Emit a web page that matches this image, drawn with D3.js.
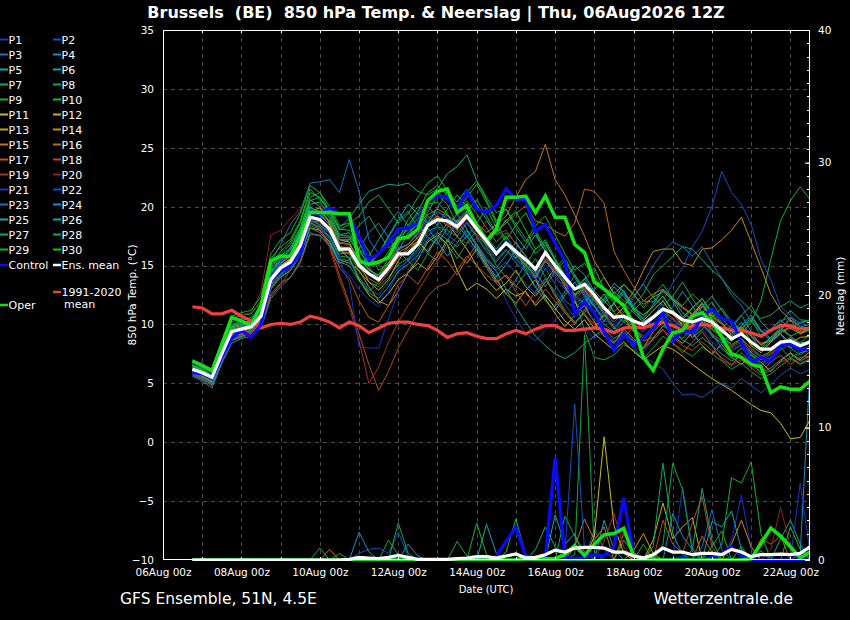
<!DOCTYPE html>
<html><head><meta charset="utf-8">
<script src="https://cdn.jsdelivr.net/npm/d3@7"></script>
<style>html,body{margin:0;padding:0;background:#000;}svg{display:block;font-family:"DejaVu Sans",sans-serif;}</style>
</head><body><svg id="c" width="850" height="620"></svg>
<script>
// ---------- DATA ----------
const titleText = "Brussels  (BE)  850 hPa Temp. & Neerslag | Thu, 06Aug2026 12Z";
const runTimeUTC = Date.UTC(2026, 7, 6, 12);
const leadHours = d3.range(6, 385, 6); // 64 steps, 6-hourly
const tempTicks = [-10, -5, 0, 5, 10, 15, 20, 25, 30, 35];
const precipTicks = [0, 10, 20, 30, 40];
const xLabelDays = ["2026-08-06", "2026-08-08", "2026-08-10", "2026-08-12", "2026-08-14", "2026-08-16", "2026-08-18", "2026-08-20", "2026-08-22"];

const ensMean = [6.2,5.9,5.5,7.5,9.4,9.6,9.8,10.7,13.8,14.8,15.3,16.7,19.1,18.9,18.1,16.4,16.4,15.0,14.3,13.8,14.8,16.0,16.0,16.8,18.4,18.9,18.8,18.3,19.2,18.1,17.1,16.0,16.9,16.2,15.5,14.7,16.1,15.0,14.0,13.0,13.4,12.5,11.4,10.6,10.7,10.3,10.0,10.6,11.3,11.0,10.4,10.2,10.5,10.2,9.5,8.8,9.2,8.5,7.9,7.9,8.5,8.6,8.2,8.5];
const control = [5.9,5.8,5.4,7.2,8.8,9.5,8.9,10.0,13.7,14.5,15.0,16.0,19.4,19.4,19.9,19.4,19.2,17.5,15.5,16.0,16.9,18.1,18.2,18.6,20.5,20.9,20.8,19.6,21.3,19.8,19.5,20.1,21.5,20.6,20.6,17.9,18.5,16.9,15.4,10.9,11.9,11.0,9.4,7.8,9.2,8.3,8.8,9.6,11.0,8.6,9.5,9.3,10.7,11.3,10.5,10.3,8.5,6.8,7.2,6.9,8.3,8.3,7.9,7.9];
const oper = [6.9,6.5,6.1,8.3,10.6,10.3,9.9,11.6,15.4,15.8,15.8,17.5,19.5,19.5,19.5,19.4,19.4,15.4,15.1,15.3,15.7,17.3,17.4,18.1,20.5,21.3,21.5,19.5,20.1,18.4,17.1,18.1,20.8,20.8,20.9,19.5,20.9,19.1,19.1,16.8,16.1,13.6,13.0,12.3,11.6,10.0,7.2,6.1,7.9,9.3,9.5,10.7,11.0,10.2,8.9,7.5,7.2,6.6,6.4,4.2,4.7,4.5,4.5,5.2];
const climate = [11.5,11.4,10.9,10.9,11.2,10.7,10.3,9.7,10.0,10.1,10.0,10.2,10.7,10.5,10.2,9.7,10.2,9.9,9.3,9.7,10.1,10.2,10.2,10.0,9.9,9.5,8.9,9.2,9.3,9.0,8.8,8.8,9.2,9.5,9.2,9.6,9.9,9.9,9.5,9.5,9.6,9.7,9.6,9.3,9.7,9.8,9.7,10.0,10.2,9.9,9.5,9.9,10.0,9.9,9.7,9.5,9.5,9.3,9.0,9.5,9.9,9.9,9.6,9.7];

const meanPrecip = [0,0,0,0,0,0,0,0,0,0,0,0,0,0,0,0,0.05,0.2,0.15,0.1,0.2,0.35,0.2,0.05,0.05,0.05,0.05,0.1,0.15,0.25,0.25,0.15,0.3,0.45,0.15,0.2,0.4,0.75,0.6,0.9,0.95,0.95,0.9,0.6,0.6,0.3,0.15,0.4,0.9,0.6,0.6,0.4,0.5,0.5,0.4,0.8,0.6,0.25,0.4,0.4,0.45,0.4,0.5,1.0];
const controlPrecip = [0,0,0,0,0,0,0,0,0,0,0,0,0,0,0,0,0,0,0,0,0,0,0,0,0,0,0,0,0,0,0,0.3,1.4,2.5,0.3,0.2,0.2,7.7,0.2,0.1,0.2,0.4,0.3,1.0,4.7,0.3,0.2,0.1,0,0,0.2,0,0,0.2,0.5,1.0,0.3,0,0,0,0,0,0,0];
const operPrecip = [0,0,0,0,0,0,0,0,0,0,0,0,0,0,0,0,0,0,0,0,0,0,0,0,0,0,0,0,0,0,0,0,0,0,0.2,0.1,0.1,0.1,0.4,1.1,0.35,1.2,1.9,2.0,2.4,0.3,0.15,0.1,0,0,0,0,0,0,0,0,0,0.1,1.25,2.4,1.8,1.0,0.15,0.6];

const p01 = [6.0,5.6,5.2,7.2,9.0,9.4,9.6,10.2, 13.0,14.2,15.0,16.5,18.5,18.8,17.2,15.0, 14.2,13.0,12.1,11.5,12.8,14.6,15.4,16.2,17.5,18.6,19.3,18.0,17.2,16.0,15.1,14.2, 12.0,10.5,9.2,8.6,9.5,10.4,11.0,10.2,9.6,8.8,9.5,8.6,9.1,8.2,7.6,8.8, 9.8,10.5,9.4,8.8,9.6,8.5,7.9,7.2,8.0,7.1,6.5,6.9,7.8,8.3,7.6,8.0];
const p02 = [6.4,6.0,5.6,7.8,9.8,9.9,10.1,11.0, 14.2,15.1,15.9,17.4,19.8,19.2,18.5,17.0, 16.8,15.4,14.6,14.0,15.2,16.5,16.8,17.6,18.8,19.5,19.2,18.6,19.5,18.4,17.0,16.2, 17.1,16.4,15.2,14.0,15.5,14.2,13.0,11.8,12.4,11.5,10.4,9.8,10.6,9.9,9.4,10.5, 12.0,13.5,14.8,16.6,17.9,20.0,23.0,21.2,20.2,18.5,15.5,13.8,11.5,10.8,10.0,10.4];
const p03 = [6.5,6.2,5.8,8.2,10.2,10.5,10.4,11.8, 15.2,16.8,18.5,19.6,22.0,22.1,22.3,21.2, 24.0,21.3,17.2,16.0,16.8,17.5,18.2,19.4,20.1,19.0,17.6,18.8,19.8,18.2,16.8,15.5, 16.4,15.2,14.5,13.1,14.8,13.4,12.0,11.4,12.2,11.0,10.0,9.4,10.2,9.6,9.0,9.8, 10.8,10.1,9.5,9.0,9.9,9.2,8.6,7.8,8.3,7.6,7.0,7.4,8.1,8.8,8.2,8.6];
const p04 = [5.8,5.5,5.0,7.0,8.8,9.1,9.5,10.3, 13.4,14.5,15.0,16.2,18.8,18.0,17.5,16.0, 16.1,15.0,15.8,17.2,18.5,19.6,18.4,17.2,16.0,15.4,17.0,18.9,17.6,16.2,14.8,13.5, 12.6,13.8,15.2,14.0,12.4,11.5,12.8,14.2,13.0,11.6,10.2,11.8,12.9,11.4,10.8,11.5, 12.4,11.0,9.8,10.6,11.8,10.5,9.2,9.9,10.8,9.4,8.2,8.9,9.8,9.0,8.4,9.2];
const p05 = [6.1,5.7,5.3,7.4,9.2,9.6,9.9,10.8, 14.0,15.2,15.8,17.5,20.0,19.5,18.4,16.8, 17.2,16.4,14.9,13.8,14.6,16.2,17.8,18.6,17.4,16.8,18.2,19.4,18.1,16.6,15.2,14.0, 15.1,16.3,14.6,13.2,12.0,11.2,12.5,13.6,12.4,11.0,12.2,13.5,12.8,11.2,10.5,11.7, 12.9,12.0,10.6,11.4,12.2,11.0,10.2,9.1,9.9,10.8,9.5,8.8,9.5,10.4,9.8,9.6];
const p06 = [6.8,6.3,5.9,8.0,10.0,10.3,10.6,11.4, 14.5,15.5,16.3,17.8,20.5,20.8,19.5,18.2, 19.0,20.2,21.3,21.6,21.9,21.8,22.0,21.3,21.0,21.5,22.8,23.4,24.4,22.2,20.8,19.5, 19.8,18.5,17.3,16.0,16.8,15.5,14.2,13.0,13.6,12.8,12.0,11.1,11.8,11.0,10.2,10.8, 11.5,10.9,10.2,9.7,10.4,9.6,9.0,8.3,8.8,8.0,7.3,7.7,8.4,8.9,8.3,8.7];
const p07 = [6.3,5.9,5.4,7.6,9.5,9.8,10.0,11.2, 14.8,16.0,16.8,18.2,20.8,21.2,19.6,18.0, 18.5,17.0,15.2,15.9,17.4,18.8,19.6,18.2,19.5,21.0,20.2,18.5,17.4,18.6,19.9,18.2, 17.0,15.6,16.8,18.0,16.5,14.8,13.6,12.4,11.8,12.9,14.0,12.6,11.5,12.4,13.4,12.3, 11.6,12.4,13.6,12.2,11.0,11.9,10.5,9.6,10.8,11.6,10.2,9.4,10.1,11.2,10.4,10.3];
const p08 = [6.0,5.7,5.1,7.3,9.3,9.5,9.7,10.5, 13.5,14.4,15.0,16.4,18.9,18.4,17.8,16.2, 16.0,14.5,13.6,13.2,14.0,15.1,15.6,16.4,17.9,18.3,18.0,17.5,18.6,17.4,16.2,15.3, 16.3,15.6,14.8,13.9,15.4,14.5,13.5,12.2,9.5,7.2,7.0,7.4,8.3,7.8,7.1,8.0, 9.0,8.4,7.8,7.3,8.1,7.5,6.9,6.2,6.7,6.0,5.4,5.8,6.5,7.1,6.6,7.0];
const p09 = [6.6,6.2,5.7,7.9,9.9,10.2,10.3,11.6, 15.0,16.2,17.0,18.6,21.2,20.8,19.5,17.6, 17.5,16.4,15.6,15.0,16.2,17.4,18.0,19.0,20.3,21.2,20.6,19.7,20.5,19.4,18.2,17.0, 17.8,16.9,15.8,14.8,16.0,15.0,13.8,12.6,13.3,12.4,11.5,10.6,11.4,10.4,9.8,10.6, 11.2,10.5,9.8,9.5,10.2,9.6,9.0,8.6,9.2,10.2,12.0,15.5,18.8,20.5,21.7,20.6];
const p10 = [6.9,6.5,6.0,8.4,10.5,10.8,10.9,12.0, 15.6,16.6,17.2,18.8,21.5,20.6,19.8,18.1, 18.0,17.5,16.2,14.6,15.2,16.8,18.4,19.6,21.2,21.8,21.0,19.6,20.8,21.9,20.4,18.6, 17.2,18.4,19.5,17.8,16.2,14.8,15.6,14.2,12.8,11.5,12.6,11.0,10.2,11.4,10.1,9.6, 10.4,11.2,9.8,8.9,9.6,10.5,9.2,8.1,8.8,7.6,7.0,7.8,8.6,8.0,8.5,8.4];
const p11 = [6.2,5.8,5.3,7.4,9.4,9.6,9.9,10.7, 13.8,14.9,15.6,16.9,19.6,19.9,18.6,16.4, 15.6,13.8,12.5,11.8,12.6,13.8,14.4,15.5,17.0,17.6,16.8,14.6,12.9,13.5,13.0,12.2, 13.0,12.4,12.8,11.6,12.5,11.4,10.3,9.6,10.4,9.2,8.5,7.8,8.5,7.7,7.0,7.6, 8.2,7.9,7.3,6.6,6.0,5.4,4.9,4.4,3.8,3.2,2.7,2.5,1.6,0.3,0.4,1.9];
const p12 = [6.4,6.0,5.6,7.6,9.6,9.7,9.9,10.9, 14.0,15.0,15.6,17.2,19.5,19.6,18.8,17.2, 17.0,15.2,13.6,12.9,13.8,15.4,16.6,17.0,16.2,17.4,18.6,17.5,16.4,15.0,13.8,12.9, 13.5,14.6,13.2,12.4,13.6,14.8,13.2,11.9,10.8,9.7,10.9,11.8,10.6,9.4,10.3,11.2, 12.0,10.8,10.0,10.9,11.8,10.4,9.5,8.6,9.4,8.2,7.6,8.5,9.2,8.4,8.9,9.0];
const p13 = [5.9,5.5,5.1,7.1,8.9,9.2,9.4,10.4, 13.2,14.0,14.6,15.9,18.2,18.0,17.0,15.5, 15.2,14.6,13.2,12.0,11.6,12.8,14.4,15.2,14.6,15.8,17.2,16.0,15.2,16.4,15.0,13.8, 12.6,11.8,12.9,13.8,12.2,10.9,9.8,10.8,11.6,10.2,9.0,8.4,9.6,8.8,8.0,9.4, 10.2,9.0,8.4,9.3,8.2,7.5,8.3,7.2,6.6,7.4,6.8,6.0,6.9,7.6,7.0,7.7];
const p14 = [6.3,5.9,5.5,7.5,9.5,9.7,9.9,10.8, 13.9,14.8,15.5,16.9,19.2,19.0,18.2,16.6, 16.5,15.2,14.4,13.9,14.8,16.1,16.6,17.4,18.6,19.2,18.7,18.1,19.0,17.9,16.9,15.9, 16.8,15.9,15.0,14.1,15.4,14.4,13.4,12.5,13.1,12.2,11.4,10.6,11.5,12.8,14.6,16.2, 16.4,16.4,15.2,15.0,16.4,16.5,17.2,18.0,19.1,17.0,14.8,12.6,11.2,10.4,9.2,9.6];
const p15 = [6.5,6.1,5.7,7.7,9.7,9.9,10.2,11.0, 14.3,15.3,15.8,17.3,19.6,19.3,18.5,16.9, 16.8,15.6,14.7,14.1,15.2,16.4,16.8,17.8,19.3,19.8,19.3,18.7,19.6,18.6,17.8,18.5, 19.2,20.8,22.3,23.0,25.3,22.3,21.0,19.3,17.5,15.4,14.0,12.6,13.4,12.5,11.7,12.3, 12.8,12.1,11.4,10.8,11.5,10.7,10.0,9.3,9.7,9.0,8.3,8.6,9.3,9.7,9.2,9.6];
const p16 = [6.0,5.6,5.2,7.2,9.1,9.4,9.6,10.5, 13.6,14.5,15.1,16.6,18.8,18.7,17.9,16.2, 16.1,14.8,13.9,13.4,14.4,15.7,16.3,17.1,18.4,19.0,18.4,17.8,18.7,17.6,16.7,17.9, 18.6,19.4,20.1,18.8,18.5,17.9,17.5,18.6,21.5,21.3,20.3,16.2,14.6,13.2,12.0,12.6, 13.0,12.2,11.5,10.9,11.6,10.8,10.1,9.4,9.8,9.1,8.4,8.7,9.4,9.8,9.3,9.7];
const p17 = [6.1,5.6,5.0,7.0,8.7,9.0,9.3,10.0, 12.6,13.5,14.0,15.2,17.6,17.6,16.6,14.8, 13.9,12.0,10.6,10.2,11.6,13.4,14.2,13.4,14.8,16.2,15.4,14.2,15.6,16.8,15.2,13.6, 14.2,12.8,11.6,12.8,13.9,12.4,11.0,10.0,11.2,12.4,11.0,9.8,8.9,9.8,8.6,8.9, 9.6,8.4,7.6,8.5,9.4,8.2,7.0,6.5,7.6,6.8,5.9,6.8,7.4,6.6,7.2,7.3];
const p18 = [5.7,5.3,4.8,6.8,8.6,8.9,9.2,9.9, 12.4,13.4,14.6,16.2,18.4,18.1,16.6,14.2, 11.8,9.2,6.6,4.4,6.0,8.0,9.5,11.0,12.4,13.2,13.5,14.6,15.8,15.0,14.2,13.5, 14.2,13.3,12.6,11.8,13.0,12.0,11.0,10.1,10.9,10.0,9.2,8.5,9.3,8.6,7.9,8.7, 9.5,8.9,8.2,7.8,8.5,7.8,7.2,6.6,7.0,6.3,5.7,6.1,6.8,7.2,6.7,7.1];
const p19 = [6.0,5.5,4.9,6.9,8.8,9.1,9.4,10.2, 13.1,14.2,15.3,16.8,18.7,18.2,16.5,13.8, 11.5,8.6,5.0,6.4,8.5,10.2,11.6,12.8,14.2,15.4,16.6,17.4,16.9,17.3,18.8,17.6, 18.0,16.8,15.8,14.6,15.8,14.6,13.4,12.2,12.9,12.0,11.2,10.4,11.2,10.5,9.8,10.5, 11.2,10.5,9.8,9.3,10.0,9.2,8.6,8.0,8.5,7.8,7.2,7.5,8.2,8.7,8.2,8.5];
const p20 = [6.7,6.8,5.9,8.2,10.4,10.8,11.0,12.8, 17.6,18.0,19.0,19.8,20.5,20.2,19.0,17.2, 16.5,15.0,14.2,13.6,14.5,15.8,16.5,17.3,18.5,19.1,18.6,18.0,18.9,17.9,16.9,16.0, 16.9,16.0,15.1,14.2,15.5,14.5,13.5,12.4,13.1,12.1,11.2,10.4,11.2,10.5,9.8,10.6, 11.4,10.8,10.1,9.6,10.3,9.5,8.8,8.2,8.6,7.9,7.2,7.6,8.3,8.8,8.2,8.6];
const p21 = [6.3,6.8,5.6,7.7,9.5,9.8,10.1,11.0, 14.2,15.3,16.0,17.4,19.8,19.2,17.6,15.4, 13.5,8.1,8.0,8.0,10.5,12.8,14.6,15.8,16.4,17.6,18.5,17.8,18.7,17.5,16.4,15.5, 16.4,15.5,14.6,13.8,15.1,14.0,13.0,12.0,12.7,11.7,10.8,10.0,10.8,10.1,9.4,10.2, 11.0,10.4,9.7,9.2,9.9,9.1,8.4,7.8,8.2,7.5,6.8,7.2,7.9,8.4,7.8,8.2];
const p22 = [5.9,5.4,5.0,7.0,8.8,9.0,9.3,10.1, 13.0,14.1,14.8,16.1,18.5,18.2,17.2,15.6, 15.4,14.0,13.0,12.5,13.6,14.8,15.4,16.2,17.5,18.2,17.6,17.0,17.9,16.8,15.7,14.6, 15.3,14.4,13.5,12.6,13.9,12.8,11.7,10.6,11.3,10.3,9.3,8.4,9.1,8.0,7.2,6.8, 6.2,5.0,4.0,4.1,3.8,4.4,5.0,4.6,5.4,4.8,4.2,4.9,5.7,6.3,5.8,6.2];
const p23 = [6.2,5.8,5.4,7.5,9.3,9.6,9.8,10.6, 13.7,14.6,15.2,16.6,18.9,18.5,17.8,16.3, 16.6,15.3,14.4,14.0,15.0,16.3,16.8,17.7,19.0,19.6,19.0,18.5,19.3,18.3,17.3,16.2, 17.0,16.0,15.2,14.3,15.6,14.6,13.6,12.4,13.0,12.0,11.0,10.2,11.0,12.2,13.5,15.0, 16.2,17.0,16.6,15.8,16.6,15.2,13.9,12.5,11.6,10.2,9.4,9.6,10.3,10.6,10.1,10.4];
const p24 = [5.6,5.2,4.6,6.7,8.4,8.8,9.0,9.7, 12.2,13.2,14.0,15.4,17.8,17.5,16.8,15.2, 15.5,16.4,17.8,18.6,17.4,16.2,15.4,16.8,18.2,17.0,15.8,16.9,18.0,16.8,15.5,14.8, 15.9,17.0,15.8,14.4,13.2,14.5,15.4,14.0,12.6,11.5,10.6,11.9,12.8,11.6,10.4,9.9, 10.6,11.5,12.8,11.6,10.2,9.0,8.4,9.3,10.2,9.0,7.9,8.6,9.2,8.0,7.4,8.0];
const p25 = [6.6,6.1,5.6,7.8,9.8,10.0,10.2,11.2, 14.6,15.6,16.4,17.9,20.2,20.4,19.2,17.6, 17.8,16.2,15.2,16.0,17.5,18.9,20.2,19.4,18.6,19.9,21.3,20.4,21.5,20.2,18.9,17.6, 18.9,17.5,16.4,17.6,16.2,15.0,13.8,15.0,14.2,12.8,12.0,13.2,12.4,11.2,12.0,11.9, 13.0,12.2,11.0,10.4,11.5,12.4,11.2,10.0,9.6,10.6,9.4,8.6,9.6,10.6,9.8,10.0];
const p26 = [5.8,5.4,4.9,6.9,8.7,9.0,9.3,10.1, 13.0,14.0,14.6,15.9,18.2,17.8,16.9,15.3, 15.0,13.7,12.7,12.2,13.2,14.5,15.1,15.9,17.2,17.8,17.2,16.6,17.5,16.4,15.4,14.5, 13.0,11.5,10.2,9.0,8.2,7.5,7.1,7.6,8.4,9.0,9.6,8.8,9.4,8.6,8.0,8.8, 9.9,9.3,8.7,8.2,8.9,8.2,7.5,6.9,7.3,6.6,5.9,6.3,7.0,7.5,6.9,7.3];
const p27 = [6.4,6.0,5.5,7.6,9.6,9.8,10.0,11.0, 14.4,15.4,16.0,17.5,19.9,19.6,18.8,17.2, 17.2,18.4,19.2,17.8,16.5,17.2,18.9,20.0,19.2,18.4,19.8,21.0,20.0,18.6,17.4,16.4, 17.5,16.2,15.0,16.4,17.2,15.6,14.2,13.0,13.9,12.6,11.8,12.8,12.0,11.6,12.6,14.2, 15.0,15.8,16.6,16.4,15.5,14.6,13.9,12.8,12.0,11.2,10.5,10.8,11.5,12.0,11.4,11.8];
const p28 = [6.0,5.6,5.2,7.2,9.0,9.3,9.5,10.3, 13.3,14.3,14.9,16.3,18.6,18.3,17.4,15.8, 15.7,14.0,12.8,13.6,15.0,16.2,15.4,14.6,16.0,17.4,16.8,15.6,16.9,18.0,16.6,15.0, 14.0,13.2,14.4,15.6,14.0,12.6,11.2,10.2,11.0,12.2,10.8,9.6,10.6,9.8,8.8,9.7, 10.6,9.4,8.8,9.8,10.6,9.2,8.0,7.2,8.0,7.4,6.6,7.2,8.0,7.2,7.6,7.8];
const p29 = [7.0,6.6,6.1,8.6,10.7,11.0,11.2,12.4, 16.0,17.2,17.8,19.4,21.8,21.2,20.0,18.4, 18.6,19.2,20.4,21.0,19.8,18.6,19.4,20.8,22.0,22.6,21.4,20.0,21.2,22.2,20.6,18.8, 19.8,18.2,17.0,18.4,19.2,17.6,16.0,14.6,15.2,14.0,13.0,12.0,13.4,12.6,11.4,12.4, 13.4,12.2,11.6,12.6,11.8,10.6,11.4,10.2,9.6,10.4,9.0,9.6,10.4,9.6,10.2,10.4];
const p30 = [6.5,6.1,5.6,7.8,9.8,10.1,10.3,11.3, 14.8,15.8,16.5,18.1,20.6,20.0,19.0,17.4, 17.4,15.8,14.6,14.2,15.6,17.0,17.6,18.6,20.2,20.4,19.4,18.0,19.6,20.6,19.2,17.8, 18.8,19.6,18.0,16.4,17.0,15.4,14.0,13.0,13.8,14.8,13.0,11.8,12.6,11.4,10.8,11.5, 12.4,11.2,10.4,11.4,12.2,10.8,9.4,9.0,9.8,8.6,8.0,8.9,9.6,9.0,9.4,9.5];

const memberTemps = [p01,p02,p03,p04,p05,p06,p07,p08,p09,p10,p11,p12,p13,p14,p15,p16,p17,p18,p19,p20,p21,p22,p23,p24,p25,p26,p27,p28,p29,p30];
const memberColors = ["#1c32c8","#1250c0","#1a6ebc","#1a8ec4","#12a6b4","#10a688","#10a862","#10a840","#18b024","#18c014",
                      "#c8c018","#c8b010","#c8a010","#c88c10","#c87818","#c06810","#c05818","#b84820","#a83020","#902020",
                      "#1c32c8","#1250c0","#1a6ebc","#1a8ec4","#12a6b4","#10a688","#10a862","#10a840","#18b024","#18c014"];
const memberNames = memberTemps.map((_, k) => "P" + (k + 1));

// precipitation events of the perturbations: [member, step index, mm per 6h]
const memberPrecipEvents = [
 [7,13,0.9],[16,14,0.8],[9,15,0.5],[4,17,2.1],[4,18,0.6],
 [2,17,0.5],[2,18,0.8],[2,19,0.9],[2,20,0.5],[2,21,2.1],[2,22,0.3],
 [8,20,1.5],[8,21,0.4],[28,21,2.8],[28,22,0.5],[24,22,1.2],[24,23,0.3],
 [27,27,1.4],[27,28,0.3],[29,29,2.8],[29,30,0.4],[25,30,2.7],[25,31,0.5],
 [10,32,0.6],[10,33,3.1],[10,34,0.4],[6,35,0.8],[6,36,2.5],[6,37,1.0],
 [5,37,3.4],[5,38,1.2],[5,39,2.0],[7,38,3.3],[7,39,1.8],[7,40,0.6],
 [22,38,0.5],[22,39,11.8],[22,40,0.8],[8,39,0.4],[8,40,17.0],[8,41,0.6],
 [15,39,1.0],[15,40,3.1],[15,41,1.5],[15,42,2.5],
 [11,41,1.8],[11,42,9.3],[11,43,2.6],[11,44,0.5],
 [19,42,1.4],[19,43,3.5],[19,44,1.0],[25,42,3.0],[25,43,0.8],[3,41,2.3],[3,42,0.8],
 [13,45,0.7],[13,46,2.0],[13,47,0.5],
 [27,47,1.0],[27,48,7.3],[27,49,2.0],[27,50,0.4],
 [28,48,1.2],[28,49,7.3],[28,50,5.3],[28,51,0.6],
 [12,47,1.5],[12,48,4.3],[12,49,1.6],[12,50,2.5],[12,51,3.2],
 [18,48,3.0],[18,49,1.2],[18,50,0.5],[18,51,2.8],[18,52,4.8],[18,53,1.0],
 [24,49,3.5],[24,50,1.8],[24,51,0.8],[21,50,5.5],[21,51,1.0],
 [26,51,0.8],[26,52,5.4],[26,53,1.5],[23,52,1.0],[23,53,3.8],[23,54,0.8],
 [5,53,2.9],[5,54,2.5],[5,55,3.7],[5,56,0.8],
 [9,54,1.2],[9,55,6.2],[9,56,5.8],[9,57,7.4],[9,58,2.0],
 [1,55,1.5],[1,56,4.9],[1,57,0.8],[14,55,1.2],[14,56,3.0],[14,57,1.0],
 [17,58,1.6],[17,59,1.2],[17,60,1.8],[20,59,0.8],[20,60,4.0],[20,61,1.0],
 [6,60,1.6],[6,61,3.0],[6,62,1.2],[21,62,5.8],[21,63,0.6],[4,62,0.5],[4,63,14.3],
 [10,44,1.5],[10,45,0.5],[16,44,2.0],[16,45,0.6],[16,52,1.8],[16,53,0.6],
 [29,46,1.2],[29,53,1.0],[29,54,2.2],[30,56,1.0],[30,58,0.7],[30,61,2.5],[30,62,0.8]
];

// ---------- DRAW ----------
const svg = d3.select("#c");
const L = 163, R = 810, T = 30, B = 560;
const times = leadHours.map(h => new Date(runTimeUTC + h * 3600e3));
const x = d3.scaleUtc().domain([new Date(Date.UTC(2026,7,6,0)), new Date(Date.UTC(2026,7,22,12))]).range([L, R]);
const yT = d3.scaleLinear().domain([-10, 35]).range([B, T]);
const yP = d3.scaleLinear().domain([0, 40]).range([B, T]);

svg.append("rect").attr("width", 850).attr("height", 620).attr("fill", "#000");

const memberPrecip = memberTemps.map((_, k) => {
  const a = leadHours.map(() => 0);
  memberPrecipEvents.filter(e => e[0] === k + 1).forEach(e => { a[e[1]] = e[2]; });
  return a;
});

// grid
const days = d3.utcDay.range(new Date(Date.UTC(2026,7,7)), new Date(Date.UTC(2026,7,22,1)));
const grid = svg.append("g").attr("stroke", "#4a4a4a").attr("stroke-width", 1).attr("stroke-dasharray", "4,4");
grid.selectAll("line.v").data(days).join("line").attr("class","v")
  .attr("x1", d => Math.round(x(d)) + 0.5).attr("x2", d => Math.round(x(d)) + 0.5).attr("y1", T).attr("y2", B);
grid.selectAll("line.h").data(tempTicks.filter(t => t > -10 && t < 35)).join("line").attr("class","h")
  .attr("y1", d => Math.round(yT(d)) + 0.5).attr("y2", d => Math.round(yT(d)) + 0.5).attr("x1", L).attr("x2", R);

svg.append("clipPath").attr("id","pc").append("rect").attr("x", L).attr("y", T).attr("width", R - L).attr("height", B - T + 1);
const plot = svg.append("g").attr("clip-path", "url(#pc)");

const lineT = d3.line().x((d, i) => x(times[i])).y(d => yT(d));
const lineP = d3.line().x((d, i) => x(times[i])).y(d => yP(d));

// member precipitation
plot.append("g").selectAll("path").data(memberPrecip).join("path")
  .attr("d", d => lineP(d)).attr("fill", "none").attr("stroke", (d, k) => memberColors[k]).attr("stroke-width", 1);
// member temps
plot.append("g").selectAll("path").data(memberTemps).join("path")
  .attr("d", d => lineT(d)).attr("fill", "none").attr("stroke", (d, k) => memberColors[k]).attr("stroke-width", 1);

// climate
plot.append("path").attr("d", lineT(climate)).attr("fill","none").attr("stroke","#f04040").attr("stroke-width",3.2);
// control
plot.append("path").attr("d", lineP(controlPrecip)).attr("fill","none").attr("stroke","#0a0aff").attr("stroke-width",3.2);
plot.append("path").attr("d", lineT(control)).attr("fill","none").attr("stroke","#0a0aff").attr("stroke-width",3.2);
// oper
plot.append("path").attr("d", lineP(operPrecip)).attr("fill","none").attr("stroke","#14e014").attr("stroke-width",3.5);
plot.append("path").attr("d", lineT(oper)).attr("fill","none").attr("stroke","#14e014").attr("stroke-width",3.5);
// ensemble mean
plot.append("path").attr("d", lineP(meanPrecip)).attr("fill","none").attr("stroke","#ffffff").attr("stroke-width",3.2);
plot.append("path").attr("d", lineT(ensMean)).attr("fill","none").attr("stroke","#ffffff").attr("stroke-width",3.2);

// frame
svg.append("rect").attr("x", L + 0.5).attr("y", T + 0.5).attr("width", R - L - 1).attr("height", B - T - 1)
  .attr("fill","none").attr("stroke","#fff").attr("stroke-width",1);

// day ticks top & bottom (inward)
const tk = svg.append("g").attr("stroke","#fff");
tk.selectAll("line.t").data(days).join("line").attr("class","t")
  .attr("x1", d => Math.round(x(d)) + 0.5).attr("x2", d => Math.round(x(d)) + 0.5).attr("y1", T).attr("y2", T + 3);
tk.selectAll("line.b").data(days).join("line").attr("class","b")
  .attr("x1", d => Math.round(x(d)) + 0.5).attr("x2", d => Math.round(x(d)) + 0.5).attr("y1", B).attr("y2", B - 3);

const fmt = d3.utcFormat("%d%b %Hz");
const styleAxis = g => { g.select(".domain").remove(); g.selectAll("text").attr("fill","#fff").attr("font-size","10.5px").attr("font-family","DejaVu Sans"); g.selectAll("line").attr("stroke","#fff"); };

svg.append("g").attr("transform", `translate(0,${B})`)
  .call(d3.axisBottom(x).tickValues(xLabelDays.map(s => new Date(s + "T00:00:00Z"))).tickFormat(fmt).tickSize(0).tickPadding(9))
  .call(styleAxis);

svg.append("g").attr("transform", `translate(${L},0)`)
  .call(d3.axisLeft(yT).tickValues(tempTicks).tickSize(0).tickPadding(9))
  .call(styleAxis);

// right precip axis with minor ticks
const rAx = svg.append("g").attr("transform", `translate(${R},0)`);
rAx.call(d3.axisRight(yP).tickValues(precipTicks).tickSizeInner(-5).tickSizeOuter(0).tickPadding(8)).call(styleAxis);
rAx.selectAll("line.minor").data(d3.range(0, 41, 1)).join("line").attr("class","minor")
  .attr("x1", -3).attr("x2", 0).attr("y1", d => Math.round(yP(d)) + 0.5).attr("y2", d => Math.round(yP(d)) + 0.5).attr("stroke","#fff");

// axis titles
svg.append("text").attr("transform","translate(136,295) rotate(-90)").attr("text-anchor","middle")
  .attr("fill","#fff").attr("font-size","10.5px").text("850 hPa Temp. (°C)");
svg.append("text").attr("transform","translate(844,296) rotate(-90)").attr("text-anchor","middle")
  .attr("fill","#fff").attr("font-size","10.5px").text("Neerslag (mm)");
svg.append("text").attr("x", 486).attr("y", 593).attr("text-anchor","middle").attr("fill","#fff").attr("font-size","10px").text("Date (UTC)");

// title + footer
svg.append("text").attr("x", 436).attr("y", 18).attr("text-anchor","middle").attr("fill","#fff")
  .attr("font-size","16px").attr("font-weight","bold").style("white-space","pre").text(titleText);
svg.append("text").attr("x", 120).attr("y", 604).attr("fill","#fff").attr("font-size","15.5px").text("GFS Ensemble, 51N, 4.5E");
svg.append("text").attr("x", 793).attr("y", 604).attr("text-anchor","end").attr("fill","#fff").attr("font-size","15.5px").text("Wetterzentrale.de");

// legend
const legendItems = memberNames.map((n, k) => ({ name: n, color: memberColors[k], col: k % 2, y: 39.5 + 15 * Math.floor(k / 2), w: 2 }));
legendItems.push({ name: "Control", color: "#0a0aff", col: 0, y: 265, w: 2.5 });
legendItems.push({ name: "Ens. mean", color: "#ffffff", col: 1, y: 265, w: 2.5 });
legendItems.push({ name: "1991-2020", name2: "mean", color: "#f04040", col: 1, y: 292, w: 2.5 });
legendItems.push({ name: "Oper", color: "#14e014", col: 0, y: 305, w: 2.5 });
const lg = svg.append("g");
legendItems.forEach(it => {
  const x0 = it.col === 0 ? 0 : 53;
  lg.append("line").attr("x1", x0).attr("x2", x0 + 8).attr("y1", it.y).attr("y2", it.y).attr("stroke", it.color).attr("stroke-width", it.w);
  lg.append("text").attr("x", x0 + 8.5).attr("y", it.y + 4).attr("fill","#fff").attr("font-size","11px").text(it.name);
  if (it.name2) lg.append("text").attr("x", x0 + 11).attr("y", it.y + 16).attr("fill","#fff").attr("font-size","11px").text(it.name2);
});
</script></body></html>
